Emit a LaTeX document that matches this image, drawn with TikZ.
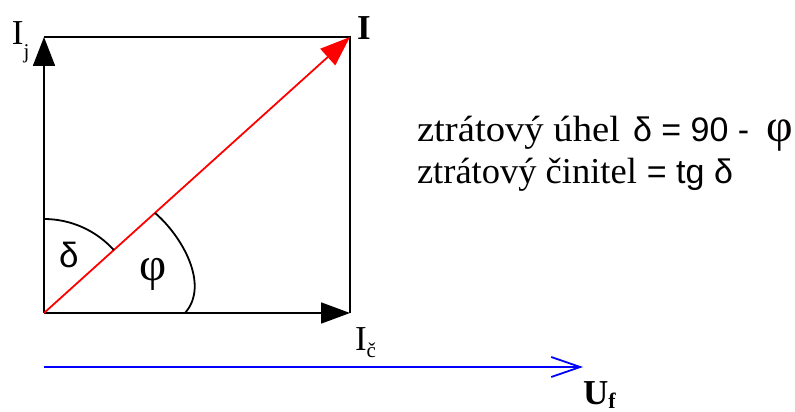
\documentclass[tikz,border=0pt]{standalone}
\usepackage{fontspec}
\setmainfont{Liberation Serif}
\newfontfamily\sansf{Liberation Sans}
\newfontfamily\wideserif[FakeStretch=1.06]{Liberation Serif}
\usetikzlibrary{arrows.meta,calc}
\newcommand{\bigphi}{{\fontsize{47}{47}\selectfont φ}}
\begin{document}
\begin{tikzpicture}[x=1pt,y=-1pt,
  vec/.style={line width=1.8pt},
  lbl/.style={inner sep=0pt,outer sep=0pt,anchor=base west},
  big/.style={font=\fontsize{35}{40}\selectfont},
  txt/.style={font=\wideserif\fontsize{36.5}{42}\selectfont},
  txtb/.style={font=\fontsize{36.5}{42}\selectfont},
  sanstxt/.style={font=\sansf\fontsize{34}{42}\selectfont}]
\useasboundingbox (0,0) rectangle (795,412);
\coordinate (O) at (44,313);
\coordinate (A) at (44,37);
\coordinate (B) at (350,37);
\coordinate (C) at (350,313);
\coordinate (U) at (583,367);
\coordinate (Ustart) at (44,367);
% frame lines
\draw[vec] (A) -- (B) -- (C);
\draw[vec,-{Triangle[length=29pt,width=22pt]}] (O) -- (A);
\draw[vec,-{Triangle[length=29pt,width=21pt]}] (O) -- (C);
\draw[vec,red,-{Triangle[length=30pt,width=22pt]}] (O) -- (B);
\draw[vec,blue,-{Straight Barb[length=29pt,width=20pt,line width=1.8pt]}] (Ustart) -- (U);
% angle arcs
\draw[vec] (44,219) arc[start angle=270,end angle=317.95,radius=94];
\draw[vec] ($(O)!0.3626!(B)$) .. controls (182,236) and (210,285) .. (185,313);
% labels
\node[lbl,big] (lj) at (12,45) {I\raisebox{-14pt}{\fontsize{21}{21}\selectfont j}};
\node[lbl,big] (li) at (357,40) {\bfseries I};
\node[lbl,big] (lc) at (355,350) {I\raisebox{-7pt}{\fontsize{21}{21}\selectfont č}};
\node[lbl,big] (lu) at (583,404) {\bfseries U\raisebox{-4pt}{\fontsize{22}{22}\selectfont f}};
\node[lbl,big] (ld) at (59,267) {\sansf δ};
\node[lbl] (lp) at (139,280) {\bigphi};
\node[lbl,txt] (t1) at (417,141) {ztrátový úhel};
\node[lbl,sanstxt] (t1b) at (633,141) {δ = 90 -};
\node[lbl] (t1c) at (766,141) {\fontsize{46}{46}\selectfont φ};
\node[lbl,txtb] (t2) at (417,183) {ztrátový činitel};
\node[lbl,sanstxt] (t2b) at ([xshift=10pt]t2.base east) {= tg δ};
\end{tikzpicture}
\end{document}
